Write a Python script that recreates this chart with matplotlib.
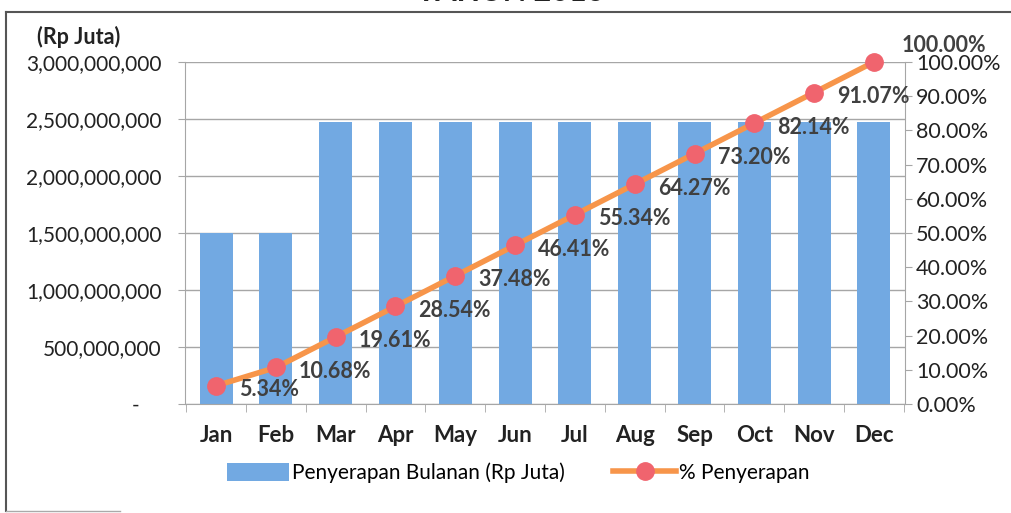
import matplotlib.pyplot as plt
from matplotlib.ticker import FuncFormatter, MultipleLocator, FixedLocator
from matplotlib.lines import Line2D
from matplotlib.patches import Patch

months = ["Jan", "Feb", "Mar", "Apr", "May", "Jun", "Jul", "Aug", "Sep", "Oct", "Nov", "Dec"]
monthly_rp = [1.50e9, 1.50e9, 2.47e9, 2.47e9, 2.47e9, 2.47e9, 2.47e9, 2.47e9, 2.47e9, 2.47e9, 2.47e9, 2.47e9]
cum_pct = [5.34, 10.68, 19.61, 28.54, 37.48, 46.41, 55.34, 64.27, 73.20, 82.14, 91.07, 100.00]

plt.rcParams["font.family"] = ["Lato", "DejaVu Sans"]

BAR = "#72A9E2"
LINE = "#F7954A"
MARK = "#F0646E"
GRID = "#A6A6A6"
TXT = "#404040"

fig = plt.figure(figsize=(10.12, 5.13), dpi=100)
ax = fig.add_axes([185 / 1012, 1 - 404 / 513, 720 / 1012, 342 / 513])

x = list(range(len(months)))
ax.bar(x, monthly_rp, width=0.55, color=BAR, zorder=2)
ax.set_xlim(-0.52, 11.52)
ax.set_ylim(0, 3.0e9)
ax.yaxis.set_major_locator(MultipleLocator(5e8))
ax.yaxis.set_major_formatter(FuncFormatter(lambda v, p: "-    " if v == 0 else f"{v:,.0f}"))
ax.grid(axis="y", color=GRID, lw=1, zorder=0)
ax.set_xticks(x)
ax.set_xticklabels(months, fontweight="bold")
ax.xaxis.set_minor_locator(FixedLocator([i - 0.5 for i in range(13)]))
ax.tick_params(axis="x", which="major", length=0, pad=15, labelsize=16, labelcolor="#222222")
ax.tick_params(axis="x", which="minor", length=6, color=GRID)
ax.tick_params(axis="y", length=5, color=GRID, pad=12, labelsize=15, labelcolor="#222222")
for s in ["top", "right"]:
    ax.spines[s].set_visible(False)
for s in ["left", "bottom"]:
    ax.spines[s].set_color(GRID)

ax2 = ax.twinx()
pct = [v / 100 for v in cum_pct]
ax2.plot(x, pct, color=LINE, lw=4, marker="o", markersize=12.5,
         markerfacecolor=MARK, markeredgecolor=MARK, zorder=3, clip_on=False)
ax2.set_ylim(0, 1.0)
ax2.yaxis.set_major_locator(MultipleLocator(0.1))
ax2.yaxis.set_major_formatter(FuncFormatter(lambda v, p: f"{v * 100:.2f}%"))
ax2.tick_params(axis="y", length=5, color=GRID, pad=3, labelsize=15.5, labelcolor="#222222")
for s in ["top", "left", "bottom"]:
    ax2.spines[s].set_visible(False)
ax2.spines["right"].set_color(GRID)

for i, (xi, p) in enumerate(zip(x, pct)):
    off = (28, 17) if i == len(x) - 1 else (23, -4)
    ax2.annotate(f"{cum_pct[i]:.2f}%", (xi, p), xytext=off, textcoords="offset pixels",
                 ha="left", va="center", fontsize=15.5, fontweight="bold", color=TXT,
                 annotation_clip=False, zorder=4)

fig.text(37 / 1012, 1 - 37 / 513, "(Rp Juta)", fontsize=15.5, fontweight="bold",
         color="#222222", va="center", ha="left")
fig.text(0.505, 1 - 1 / 513, "TAHUN 2016", fontsize=22, fontweight="bold",
         ha="center", va="baseline", color="#222222")

handles = [Patch(facecolor=BAR, edgecolor="none"),
           Line2D([0], [0], color=LINE, lw=4, marker="o", markersize=12.5,
                  markerfacecolor=MARK, markeredgecolor=MARK)]
fig.legend(handles, ["Penyerapan Bulanan (Rp Juta)", "% Penyerapan"], loc="center",
           bbox_to_anchor=(0.512, 1 - 473 / 513), ncol=2, frameon=False, fontsize=15,
           handlelength=3.0, handleheight=0.9, handletextpad=0.15, columnspacing=2.3)

# chart border (scanned frame)
fig.add_artist(Line2D([6 / 1012, 1.0], [1 - 12 / 513] * 2, color="#555555", lw=1.5))
fig.add_artist(Line2D([6 / 1012] * 2, [1 - 12 / 513, 0.003], color="#555555", lw=1.5))
fig.add_artist(Line2D([6 / 1012, 120 / 1012], [0.004] * 2, color="#AAAAAA", lw=1))

fig.savefig("out.png", dpi=100)
